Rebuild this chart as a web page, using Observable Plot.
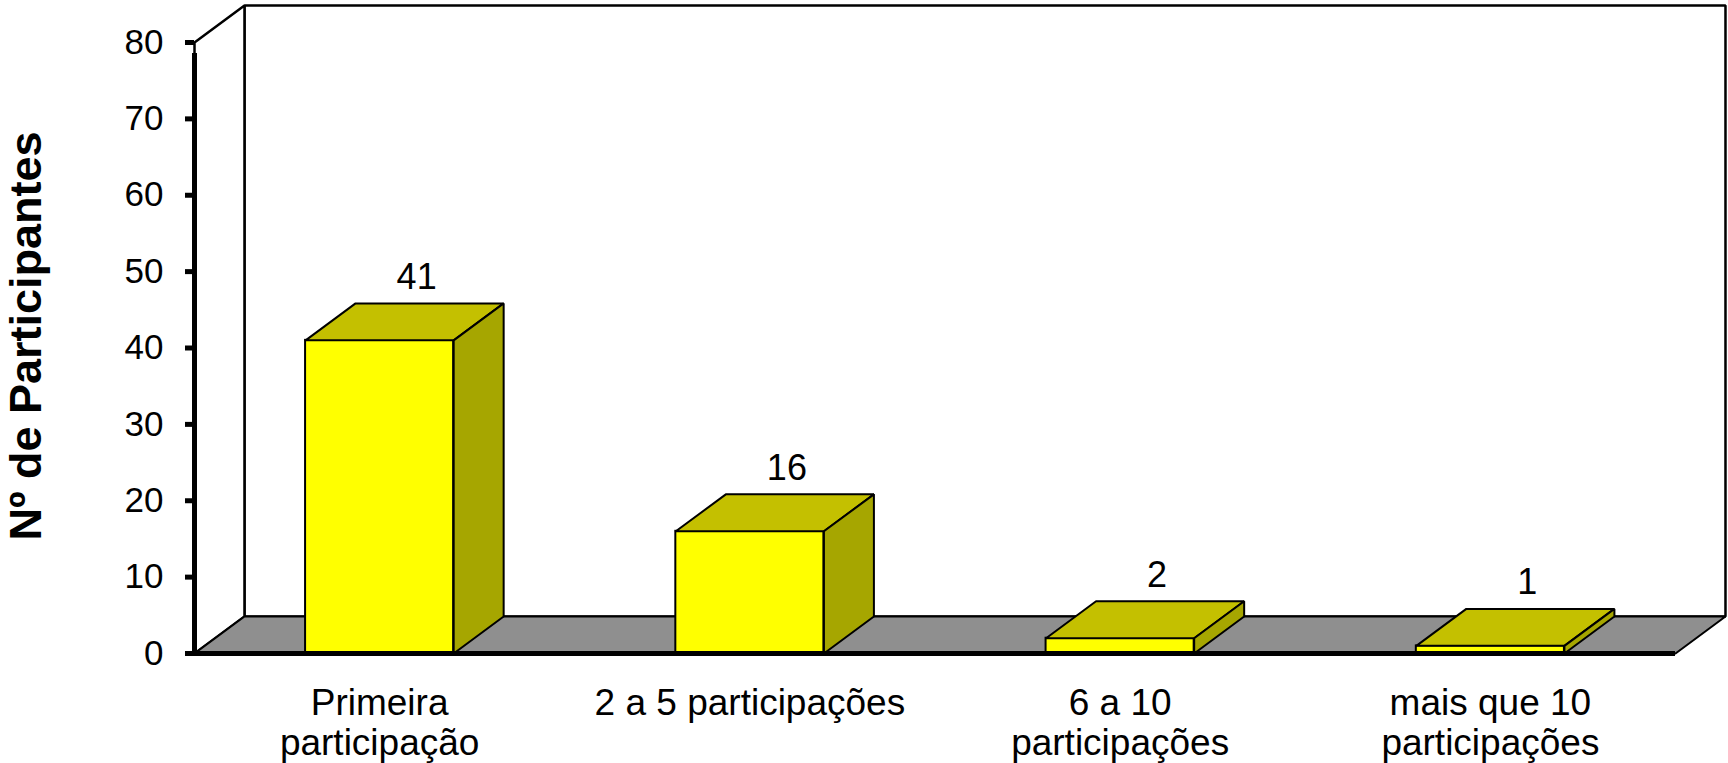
<!DOCTYPE html>
<html><head><meta charset="utf-8">
<script src="https://cdn.jsdelivr.net/npm/d3@7"></script>
<script src="https://cdn.jsdelivr.net/npm/@observablehq/plot@0.6"></script>
<style>html,body{margin:0;padding:0;background:#fff} svg{display:block}</style>
</head><body><div id="chart"></div>
<script>
const categories = ["Primeira\nparticipação", "2 a 5 participações", "6 a 10\nparticipações", "mais que 10\nparticipações"];
const values = [41, 16, 2, 1];
const yTicks = [0, 10, 20, 30, 40, 50, 60, 70, 80];
const yLabel = "Nº de Participantes";

const n = categories.length;
const yMax = 80;
const DX = 0.135, DY = 4.84;   // 3D depth in data units
const PAD = 0.3;               // band padding on each side of the bar

const bars = categories.map((c, i) => ({cat: c, value: values[i], i, x1: i + PAD, x2: i + 1 - PAD}));
function poly(id, pts) { return pts.concat([pts[0]]).map(([x, y]) => ({id, x, y})); }

const backWall = poly("back", [[DX, DY], [n + DX, DY], [n + DX, yMax + DY], [DX, yMax + DY]]);
const leftWall = poly("left", [[0, 0], [DX, DY], [DX, yMax + DY], [0, yMax]]);
const floor = poly("floor", [[0, 0], [n, 0], [n + DX, DY], [DX, DY]]);
const tops = bars.flatMap(b => poly("t" + b.i, [[b.x1, b.value], [b.x2, b.value], [b.x2 + DX, b.value + DY], [b.x1 + DX, b.value + DY]]));
const sides = bars.flatMap(b => poly("s" + b.i, [[b.x2, 0], [b.x2 + DX, DY], [b.x2 + DX, b.value + DY], [b.x2, b.value]]));

const font = "'Liberation Sans', Arial, Helvetica, sans-serif";

const chart = Plot.plot({
  width: 1728, height: 763,
  marginLeft: 194, marginRight: 53, marginTop: 42, marginBottom: 110,
  x: {domain: [0, n], axis: null},
  y: {domain: [0, yMax], axis: null},
  style: {fontFamily: font, background: "white", color: "black", overflow: "visible"},
  marks: [
    Plot.line(backWall, {x: "x", y: "y", z: "id", fill: "white", stroke: "black", strokeWidth: 2.5, strokeLinejoin: "miter"}),
    Plot.line(leftWall, {x: "x", y: "y", z: "id", fill: "white", stroke: "black", strokeWidth: 2.5, strokeLinejoin: "miter"}),
    Plot.line(floor, {x: "x", y: "y", z: "id", fill: "#8f8f8f", stroke: "black", strokeWidth: 2, strokeLinejoin: "miter"}),
    Plot.rect(bars, {x1: "x1", x2: "x2", y1: 0, y2: "value", fill: "#ffff00", stroke: "black", strokeWidth: 2}),
    Plot.line(tops, {x: "x", y: "y", z: "id", fill: "#c4c000", stroke: "black", strokeWidth: 2, strokeLinejoin: "miter"}),
    Plot.line(sides, {x: "x", y: "y", z: "id", fill: "#a6a600", stroke: "black", strokeWidth: 2, strokeLinejoin: "miter"}),
    Plot.ruleY([0], {x1: 0, x2: n, stroke: "black", strokeWidth: 5}),
    Plot.ruleX([0], {y1: 0, y2: yMax, stroke: "black", strokeWidth: 5, insetBottom: -11}),
    Plot.axisY({ticks: yTicks, tickSize: 9, tickPadding: 22, strokeWidth: 5, fontSize: 35, label: null, tickFormat: d => String(d)}),
    Plot.text(bars, {x: d => d.i + 0.5, y: "value", text: d => String(d.value), dx: 37, dy: -63, fontSize: 36, fill: "black"}),
    Plot.text(bars, {x: d => d.i + 0.5, y: 0, text: "cat", lineAnchor: "top", dy: 33, fontSize: 37, lineHeight: 1.08, fill: "black"}),
    Plot.text([yLabel], {frameAnchor: "left", text: d => d, rotate: -90, textAnchor: "middle", lineAnchor: "middle", dx: -168, dy: -12, fontSize: 45, fontWeight: "bold", fill: "black"})
  ]
});
document.getElementById("chart").append(chart);
</script>
</body></html>
